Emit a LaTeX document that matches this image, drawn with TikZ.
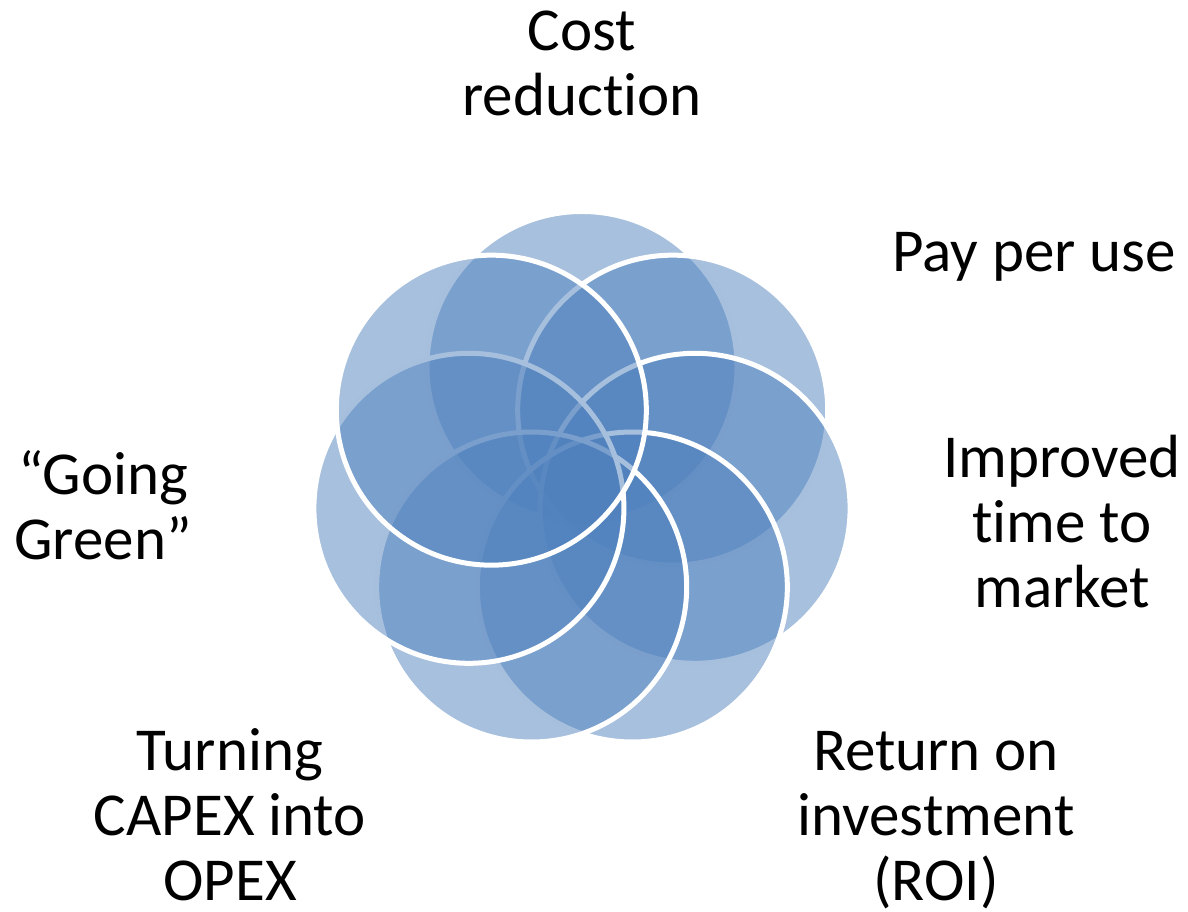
\documentclass[tikz,border=0pt]{standalone}
\usepackage{fontspec}
\setmainfont{Carlito}[Ligatures={NoCommon}]
\definecolor{petalblue}{HTML}{4F81BD}
\begin{document}
\begin{tikzpicture}[x=1pt,y=1pt,
  petal/.style={circle, minimum size=310pt, inner sep=0pt, outer sep=0pt,
    fill=petalblue, fill opacity=0.5, draw=white, draw opacity=1, line width=5pt},
  lbl/.style={anchor=north, inner sep=0pt, align=center,
    font=\fontsize{61}{65}\selectfont, text=black}]
\useasboundingbox (0,0) rectangle (1188,912);
\coordinate (ring) at (582,429.5);
\foreach \k in {1,...,7} {
  \node[petal] (c\k) at ([shift={({90-(\k-1)*360/7}:116)}]ring) {};
}
\node[lbl] (cost)  at (582,912)  {\rule{0pt}{50pt}Cost\\reduction};
\node[lbl] (pay)   at (1034,691) {\rule{0pt}{50pt}Pay per use};
\node[lbl] (time)  at (1062,485) {\rule{0pt}{50pt}Improved\\time to\\market};
\node[lbl] (roi)   at (936,192)  {\rule{0pt}{50pt}Return on\\investment\\(ROI)};
\node[lbl] (capex) at (230,192)  {\rule{0pt}{50pt}Turning\\CAPEX into\\OPEX};
\node[lbl] (green) at (103,468)  {\rule{0pt}{50pt}“Going\\Green”};
\end{tikzpicture}
\end{document}
